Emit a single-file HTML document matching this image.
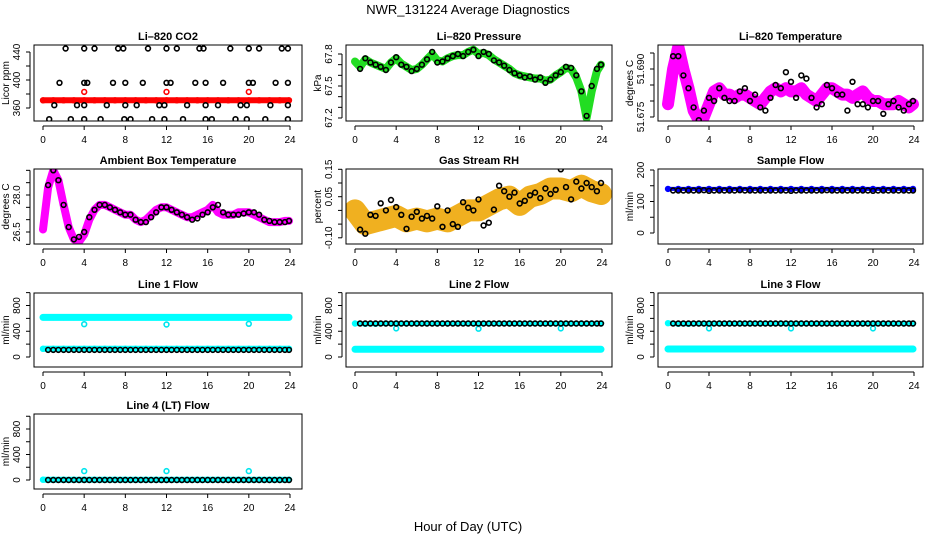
<!DOCTYPE html>
<html><head><meta charset="utf-8"><style>
body{margin:0;background:#fff}
svg{display:block;font-family:"Liberation Sans",sans-serif}
</style></head><body>
<svg id="c" width="936" height="540" viewBox="0 0 936 540">
<text x="468" y="14" text-anchor="middle" font-size="13">NWR_131224  Average Diagnostics</text>
<text x="468" y="531" text-anchor="middle" font-size="13">Hour of Day (UTC)</text>
</svg>
<script>
const HB=[0.5,1,1.5,2,2.5,3,3.5,4,4.5,5,5.5,6,6.5,7,7.5,8,8.5,9,9.5,10,10.5,11,11.5,12,12.5,13,13.5,14,14.5,15,15.5,16,16.5,17,17.5,18,18.5,19,19.5,20,20.5,21,21.5,22,22.5,23,23.5,23.9];
const HC=[0,0.5,1,1.5,2,2.5,3,3.5,4,4.5,5,5.5,6,6.5,7,7.5,8,8.5,9,9.5,10,10.5,11,11.5,12,12.5,13,13.5,14,14.5,15,15.5,16,16.5,17,17.5,18,18.5,19,19.5,20,20.5,21,21.5,22,22.5,23,23.5,23.9];
const H1=[0,1,2,3,4,5,6,7,8,9,10,11,12,13,14,15,16,17,18,19,20,21,22,23,23.9];
const xTicks=[0,4,8,12,16,20,24];
const dipHours=[4,12,20];

// CO2
const co2Hours=[2.2,4,5,7.3,7.8,10.2,12,13,15.2,15.6,18.2,20,21,23.2,23.8, 1.6,4,4.3,6.8,8,9.7,12,12.4,14.8,15.8,17.5,20,20.4,22.6,23.8, 1.1,3.3,4,6.2,8,9.1,11.3,11.8,14,15.8,17,19.2,19.8,22.1,23.8, 0.6,2.7,4,5.6,7.9,8.5,10.6,11.8,13.6,15.8,16.4,18.7,19.8,21.6,23.8];
const co2Vals=[445,445,445,445,445,445,445,445,445,445,445,445,445,445,445, 396,396,396,396,396,396,396,396,396,396,396,396,396,396,396, 364,364,364,364,364,364,364,364,364,364,364,364,364,364,364, 344,344,344,344,344,344,344,344,344,344,344,344,344,344,344];
const co2Red=[371,371,371,371,371,371,371,371,371,371,371,371,371,371,371,371,371,371,371,371,371,371,371,371,371];
const co2RedDips=[383,383,383];
// Pressure
const pressBlack=[67.66,67.76,67.72,67.7,67.68,67.65,67.72,67.77,67.7,67.68,67.64,67.66,67.7,67.75,67.82,67.72,67.73,67.76,67.78,67.8,67.78,67.82,67.84,67.78,67.82,67.8,67.74,67.72,67.69,67.65,67.62,67.6,67.58,67.59,67.56,67.58,67.53,67.56,67.6,67.63,67.68,67.67,67.6,67.45,67.22,67.5,67.66,67.7];
const pressGreen=[67.73,67.68,67.75,67.72,67.7,67.68,67.66,67.72,67.76,67.71,67.68,67.65,67.66,67.7,67.75,67.8,67.74,67.73,67.76,67.78,67.79,67.79,67.82,67.84,67.8,67.81,67.79,67.75,67.72,67.69,67.66,67.62,67.6,67.59,67.58,67.57,67.57,67.55,67.56,67.6,67.63,67.67,67.66,67.58,67.45,67.2,67.45,67.64,67.7];
// Li-820 temp
const tempBlack=[51.694,51.694,51.688,51.684,51.678,51.674,51.677,51.681,51.680,51.684,51.681,51.680,51.680,51.683,51.684,51.680,51.682,51.678,51.677,51.681,51.685,51.684,51.689,51.686,51.681,51.688,51.687,51.681,51.678,51.679,51.685,51.684,51.682,51.682,51.677,51.686,51.679,51.679,51.678,51.680,51.680,51.676,51.679,51.680,51.678,51.677,51.679,51.680];
const tempMag=[51.679,51.690,51.697,51.690,51.684,51.677,51.674,51.675,51.679,51.683,51.684,51.682,51.682,51.681,51.682,51.682,51.681,51.680,51.679,51.681,51.683,51.684,51.683,51.684,51.683,51.683,51.684,51.682,51.681,51.680,51.682,51.684,51.684,51.683,51.682,51.682,51.681,51.682,51.683,51.681,51.680,51.680,51.679,51.679,51.679,51.680,51.679,51.678,51.679];
// Ambient
const ambMag=[26.6,28.3,29.0,28.6,27.6,26.7,26.2,26.1,26.4,27.0,27.4,27.6,27.6,27.5,27.4,27.3,27.2,27.2,27.0,26.9,27.0,27.2,27.4,27.5,27.5,27.4,27.3,27.2,27.1,27.1,27.2,27.3,27.4,27.6,27.3,27.2,27.2,27.2,27.3,27.3,27.3,27.2,27.1,27.0,26.9,26.9,26.9,26.95,26.95];
const ambBlack=[28.4,29.0,28.6,27.6,26.7,26.2,26.3,26.5,27.1,27.4,27.6,27.6,27.5,27.4,27.3,27.2,27.2,27.0,26.9,26.9,27.1,27.3,27.5,27.5,27.4,27.3,27.2,27.1,27.0,27.05,27.2,27.3,27.5,27.6,27.3,27.2,27.2,27.2,27.25,27.3,27.3,27.2,27.0,26.95,26.9,26.9,26.9,26.95];
// RH
const rhCloud=[0.0,-0.05,-0.04,-0.03,-0.02,-0.04,-0.03,-0.04,-0.03,-0.04,-0.02,0.0,0.0,0.02,0.04,0.05,0.02,0.05,0.06,0.08,0.08,0.07,0.09,0.07,0.06];
const rhBlack=[-0.07,-0.085,-0.016,-0.02,0.026,0.0,0.038,0.012,-0.016,-0.067,-0.023,-0.005,-0.03,-0.02,-0.03,0.015,-0.06,0.0,-0.05,-0.06,0.03,0.01,0.0,0.04,-0.055,-0.045,0.003,0.09,0.07,0.05,0.065,0.025,0.035,0.055,0.065,0.045,0.08,0.06,0.075,0.15,0.085,0.04,0.105,0.08,0.1,0.085,0.07,0.1];
// Sample flow
const sampleBlue=[140,140,140,140,140,140,140,140,140,140,140,140,140,140,140,140,140,140,140,140,140,140,140,140,140];
const sampleBlack=[135,135,135,135,135,135,136,134,135,135,135,135,135,136,135,135,135,135,135,135,135,135,135,134,135,135,135,135,135,135,136,135,135,135,135,135,135,135,135,134,135,135,135,135,135,135,135,135];
// Line flows
const l1High=[615,615,615,615,615,615,615,615,615,615,615,615,615,615,615,615,615,615,615,615,615,615,615,615,615];
const l1Low=[128,128,128,128,128,128,128,128,128,128,128,128,128,128,128,128,128,128,128,128,128,128,128,128,128];
const l1Black=[110,110,110,110,110,110,110,110,110,110,110,110,110,110,110,110,110,110,110,110,110,110,110,110,110,110,110,110,110,110,110,110,110,110,110,110,110,110,110,110,110,110,110,110,110,110,110,110];
const l1Dips=[510,505,515];
const l2High=[520,515,515,520,520,520,520,520,520,520,520,520,520,520,520,520,520,520,520,520,520,520,520,520,520];
const l2Low=[120,120,120,120,120,120,120,120,120,120,120,120,120,120,120,120,120,120,120,120,120,120,120,120,120];
const l2Black=[520,520,520,520,520,520,520,520,520,520,520,520,520,520,520,520,520,520,520,520,520,520,520,520,520,520,520,520,520,520,520,520,520,520,520,520,520,520,520,520,520,520,520,520,520,520,520,520];
const l2Dips=[445,440,445];
const l3High=[525,515,515,520,520,520,520,520,520,520,520,520,520,520,520,520,520,520,520,520,520,520,520,520,520];
const l3Low=[125,125,125,125,125,125,125,125,125,125,125,125,125,125,125,125,125,125,125,125,125,125,125,125,125];
const l3Black=[520,520,520,520,520,520,520,520,520,520,520,520,520,520,520,520,520,520,520,520,520,520,520,520,520,520,520,520,520,520,520,520,520,520,520,520,520,520,520,520,520,520,520,520,520,520,520,520];
const l3Dips=[445,445,445];
const l4Low=[5,5,5,5,5,5,5,5,5,5,5,5,5,5,5,5,5,5,5,5,5,5,5,5,5];
const l4Black=[0,0,0,0,0,0,0,0,0,0,0,0,0,0,0,0,0,0,0,0,0,0,0,0,0,0,0,0,0,0,0,0,0,0,0,0,0,0,0,0,0,0,0,0,0,0,0,0];
const l4Dips=[140,140,140];

const NS='http://www.w3.org/2000/svg';
const svg=document.getElementById('c');
function mk(tag,attrs,parent){const e=document.createElementNS(NS,tag);for(const k in attrs)e.setAttribute(k,attrs[k]);(parent||svg).appendChild(e);return e;}
const cols=[{l:34,r:302,x0:43,x24:290},{l:346,r:612,x0:355,x24:602},{l:658,r:923,x0:668,x24:914}];
const rows=[{t:45,b:121},{t:169,b:244},{t:293,b:367},{t:414,b:489}];

const panels=[
 {name:'co2',title:'Li\u2013820 CO2',c:0,r:0,ylab:'Licor ppm',a:[360,108],b:[440,52],ticks:[360,380,400,420,440],labels:[360,400,440],fmt:v=>v,
  series:[{h:H1,v:co2Red,col:'#ff0000',w:6},{h:dipHours,v:co2RedDips,col:'#ff0000',pts:1},{h:co2Hours,v:co2Vals,col:'#000',pts:1}]},
 {name:'pressure',title:'Li\u2013820 Pressure',c:1,r:0,ylab:'kPa',a:[67.5,86],b:[67.8,54],ticks:[67.2,67.3,67.4,67.5,67.6,67.7,67.8],labels:[67.2,67.5,67.8],fmt:v=>v.toFixed(1),
  series:[{h:HC,v:pressGreen,col:'#22dd22',w:8},{h:HB,v:pressBlack,col:'#000',pts:1}]},
 {name:'licor-temp',title:'Li\u2013820 Temperature',c:2,r:0,ylab:'degrees C',a:[51.675,117],b:[51.690,69],ticks:[51.675,51.680,51.685,51.690,51.695],labels:[51.675,51.690],fmt:v=>v.toFixed(3),
  series:[{h:HC,v:tempMag,col:'#ff00ff',w:12},{h:HB,v:tempBlack,col:'#000',pts:1}]},
 {name:'ambient-temp',title:'Ambient Box Temperature',c:0,r:1,ylab:'degrees C',a:[26.5,232],b:[28.0,195],ticks:[26.0,26.5,27.0,27.5,28.0,28.5,29.0],labels:[26.5,28.0],fmt:v=>v.toFixed(1),
  series:[{h:HC,v:ambMag,col:'#ff00ff',w:8},{h:HB,v:ambBlack,col:'#000',pts:1}]},
 {name:'rh',title:'Gas Stream RH',c:1,r:1,ylab:'percent',a:[0.05,196.7],b:[0.15,169.3],ticks:[-0.10,-0.05,0,0.05,0.10,0.15],labels:[-0.10,0.05,0.15],fmt:v=>v.toFixed(2),
  series:[{h:H1,v:rhCloud,col:'#f0b020',w:22},{h:HB,v:rhBlack,col:'#000',pts:1}]},
 {name:'sample-flow',title:'Sample Flow',c:2,r:1,ylab:'ml/min',a:[0,233],b:[200,170],ticks:[0,50,100,150,200],labels:[0,100,200],fmt:v=>v,
  series:[{h:H1,v:sampleBlue,col:'#0000ff',w:4},{h:HB,v:sampleBlack,col:'#000',pts:1}]},
 {name:'line1-flow',title:'Line 1 Flow',c:0,r:2,ylab:'ml/min',a:[0,357],b:[800,305.5],ticks:[0,200,400,600,800,1000],labels:[0,400,800],fmt:v=>v,
  series:[{h:H1,v:l1High,col:'#00ffff',w:7},{h:H1,v:l1Low,col:'#00ffff',w:6},{h:dipHours,v:l1Dips,col:'#00e5ee',pts:1},{h:HB,v:l1Black,col:'#000',pts:1}]},
 {name:'line2-flow',title:'Line 2 Flow',c:1,r:2,ylab:'ml/min',a:[0,357],b:[800,305.5],ticks:[0,200,400,600,800,1000],labels:[0,400,800],fmt:v=>v,
  series:[{h:H1,v:l2High,col:'#00ffff',w:5},{h:H1,v:l2Low,col:'#00ffff',w:7},{h:dipHours,v:l2Dips,col:'#00e5ee',pts:1},{h:HB,v:l2Black,col:'#000',pts:1}]},
 {name:'line3-flow',title:'Line 3 Flow',c:2,r:2,ylab:'ml/min',a:[0,357],b:[800,305.5],ticks:[0,200,400,600,800,1000],labels:[0,400,800],fmt:v=>v,
  series:[{h:H1,v:l3High,col:'#00ffff',w:5},{h:H1,v:l3Low,col:'#00ffff',w:7},{h:dipHours,v:l3Dips,col:'#00e5ee',pts:1},{h:HB,v:l3Black,col:'#000',pts:1}]},
 {name:'line4-flow',title:'Line 4 (LT) Flow',c:0,r:3,ylab:'ml/min',a:[0,480],b:[800,429],ticks:[0,200,400,600,800,1000],labels:[0,400,800],fmt:v=>v,
  series:[{h:H1,v:l4Low,col:'#00ffff',w:6},{h:dipHours,v:l4Dips,col:'#00e5ee',pts:1},{h:HB,v:l4Black,col:'#000',pts:1}]}
];

panels.forEach(p=>{
  const C=cols[p.c],R=rows[p.r];
  const g=mk('g',{});
  
  
  const xs=h=>C.x0+h*(C.x24-C.x0)/24;
  const ys=v=>p.a[1]+(v-p.a[0])*(p.b[1]-p.a[1])/(p.b[0]-p.a[0]);
  const t=mk('text',{x:(C.l+C.r)/2,y:R.t-5,'text-anchor':'middle','font-size':11,'font-weight':'bold'},g);
  t.textContent=p.title;
  
  
  const clip=mk('clipPath',{id:'cl'+p.name},g);
  mk('rect',{x:C.l,y:R.t,width:C.r-C.l,height:R.b-R.t},clip);
  const plot=mk('g',{'clip-path':'url(#cl'+p.name+')'},g);
  p.series.forEach((s,si)=>{
    const n=Math.min(s.h.length,s.v.length);
    const sg=mk('g',{},plot);
    
    
    if(s.w){
      let d='';for(let i=0;i<n;i++)d+=(i?'L':'M')+xs(s.h[i]).toFixed(1)+','+ys(s.v[i]).toFixed(1);
      mk('path',{d:d,fill:'none',stroke:s.col,'stroke-width':s.w,'stroke-linejoin':'round','stroke-linecap':'round'},sg);
    }
    for(let i=0;i<n;i++){
      const c=mk('circle',{cx:xs(s.h[i]).toFixed(1),cy:ys(s.v[i]).toFixed(1),r:2.4,fill:'none',stroke:s.col,'stroke-width':1.6},sg);
      
      
    }
  });
  const box=mk('rect',{x:C.l,y:R.t,width:C.r-C.l,height:R.b-R.t,fill:'none',stroke:'#000','stroke-width':1},g);
  
  
  const xa=mk('g',{},g);
  
  
  const ay=R.b+5;
  mk('line',{x1:xs(0),x2:xs(24),y1:ay,y2:ay,stroke:'#000'},xa);
  xTicks.forEach(h=>{
    mk('line',{x1:xs(h),x2:xs(h),y1:ay,y2:ay+4,stroke:'#000'},xa);
    const tl=mk('text',{x:xs(h),y:ay+17,'text-anchor':'middle','font-size':10},xa);
    tl.textContent=h;
  });
  const ya=mk('g',{},g);
  
  
  const ax=C.l-4;
  mk('line',{x1:ax,x2:ax,y1:ys(p.ticks[0]),y2:ys(p.ticks[p.ticks.length-1]),stroke:'#000'},ya);
  p.ticks.forEach(v=>mk('line',{x1:ax-4,x2:ax,y1:ys(v),y2:ys(v),stroke:'#000'},ya));
  p.labels.forEach(v=>{
    const lx=ax-10,ly=ys(v);
    const tl=mk('text',{x:lx,y:ly,'text-anchor':'middle','font-size':10,transform:'rotate(-90 '+lx+' '+ly+')'},ya);
    tl.textContent=p.fmt(v);
  });
  const yt=mk('text',{x:C.l-25,y:(R.t+R.b)/2,'text-anchor':'middle','font-size':10,transform:'rotate(-90 '+(C.l-25)+' '+((R.t+R.b)/2)+')'},g);
  yt.textContent=p.ylab;
  
  
});
</script>
</body></html>
